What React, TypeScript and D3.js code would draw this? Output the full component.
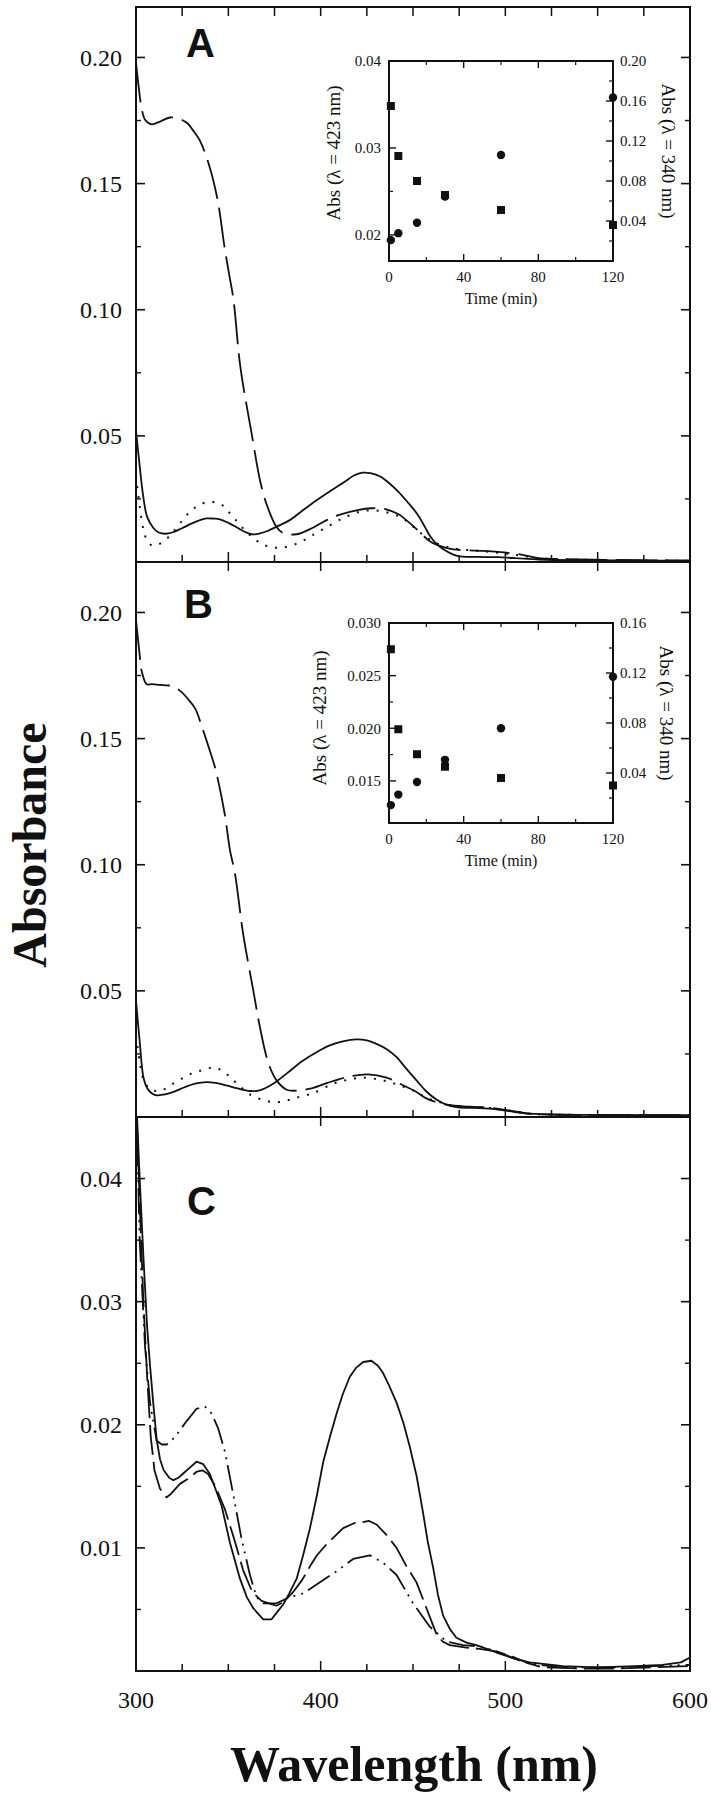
import React from 'react';
import * as d3 from 'd3';

type Pt = [number, number];

// ---------- data ----------
const wavelengthTicks = [300, 400, 500, 600];
const timeTicks = [0, 40, 80, 120];
const timeMinor = [20, 60, 100];
const insetTimes = [1, 5, 15, 30, 60, 120];

const insetA423 = [0.0194, 0.0202, 0.0214, 0.0244, 0.0292, 0.0358];
const insetA340 = [0.155, 0.105, 0.080, 0.066, 0.051, 0.036];
const insetB423 = [0.0127, 0.0137, 0.0149, 0.0170, 0.0200, 0.0249];
const insetB340 = [0.139, 0.075, 0.055, 0.045, 0.036, 0.030];

const aDashed: Pt[] = [
  [300, 0.198], [301.5, 0.188], [303, 0.180], [305, 0.1752], [308.5, 0.1735], [313, 0.1746],
  [318.4, 0.1762], [323.8, 0.1756], [328, 0.1738], [331, 0.171], [334.4, 0.1673], [339.3, 0.158],
  [344.2, 0.1435], [347.9, 0.125], [350.3, 0.1146], [352.8, 0.1039], [356.5, 0.0774], [362.6, 0.051],
  [367.5, 0.0312], [371.2, 0.0219], [376, 0.014], [379.8, 0.0114], [387, 0.011], [395.8, 0.0136],
  [403, 0.0165], [410, 0.0187], [420, 0.0206], [427.6, 0.0213], [435, 0.021], [442, 0.019],
  [447, 0.0162], [452, 0.013], [459.5, 0.008], [466, 0.006], [472, 0.005], [485, 0.0045],
  [496, 0.004], [508, 0.003], [518, 0.0015], [530, 0.0012], [560, 0.0008], [600, 0.0005],
];
const aSolid: Pt[] = [
  [300, 0.052], [302, 0.038], [304, 0.0256], [306, 0.018], [309.4, 0.0135], [312, 0.0118],
  [316, 0.0112], [320, 0.0118], [324.6, 0.0133], [330, 0.0152], [335, 0.0167], [338, 0.0173],
  [342, 0.0172], [345.4, 0.0169], [350, 0.0155], [354, 0.014], [358, 0.0123], [362.6, 0.011],
  [367, 0.0113], [371.2, 0.0123], [377, 0.0143], [383.5, 0.0167], [390, 0.0203], [398, 0.0246],
  [405, 0.028], [413, 0.0318], [418, 0.0343], [422.7, 0.0354], [427, 0.0352], [432.5, 0.0338],
  [437, 0.0313], [442, 0.0279], [447, 0.0238], [452, 0.0193], [456, 0.0145], [459.5, 0.01],
  [463, 0.007], [467, 0.0048], [474, 0.0024], [485, 0.002], [496, 0.0019], [510, 0.0013],
  [518, 0.001], [540, 0.0007], [570, 0.0006], [600, 0.0005],
];
const aDotted: Pt[] = [
  [300, 0.034], [302, 0.022], [304, 0.013], [306, 0.0085], [308.6, 0.0066], [311.5, 0.0068],
  [314.7, 0.008], [319, 0.011], [324.6, 0.016], [330, 0.0205], [335, 0.0228], [339.3, 0.0239],
  [343, 0.0236], [346.7, 0.0226], [350, 0.02], [354, 0.0167], [359, 0.0125], [363.8, 0.0094],
  [368, 0.0072], [373.6, 0.0058], [378, 0.0057], [383.3, 0.0063], [390, 0.0083], [395.7, 0.0107],
  [405, 0.0145], [413, 0.0177], [420, 0.0197], [427.6, 0.0205], [435, 0.0198], [442, 0.0182],
  [447, 0.016], [452, 0.0127], [456, 0.0105], [459.5, 0.0087], [465, 0.0068], [471.8, 0.0054],
  [485, 0.0044], [496, 0.0037], [508, 0.0026], [518, 0.0015], [535, 0.001], [560, 0.0007], [600, 0.0005],
];

const bDashed: Pt[] = [
  [300, 0.197], [301, 0.19], [302, 0.183], [303, 0.177], [305.8, 0.1715], [308.6, 0.1716],
  [313, 0.1713], [317, 0.1711], [320, 0.1707], [324.7, 0.1684], [328, 0.1658], [332, 0.162],
  [336, 0.154], [340.5, 0.144], [343, 0.138], [348, 0.1203], [350.9, 0.1057], [353.6, 0.0965],
  [358, 0.0727], [363.5, 0.0502], [367, 0.036], [370.7, 0.0238], [373.5, 0.018], [376.1, 0.0145],
  [381.5, 0.0108], [388, 0.0105], [394.2, 0.0112], [403.2, 0.0134], [414, 0.0158], [425.7, 0.0169],
  [435.7, 0.0156], [444, 0.0128], [451.9, 0.0099], [457, 0.0075], [462.7, 0.0059], [470, 0.0047],
  [477.1, 0.0042], [491.6, 0.0037], [498.8, 0.0029], [507, 0.002], [513, 0.0013], [530, 0.0009],
  [560, 0.0008], [600, 0.0007],
];
const bSolid: Pt[] = [
  [300, 0.046], [302, 0.03], [304, 0.0158], [306, 0.0115], [308.5, 0.0094], [311.2, 0.0086],
  [315, 0.0089], [320, 0.0099], [326, 0.0117], [332, 0.0132], [338.2, 0.0138], [343, 0.0135],
  [349, 0.0125], [355, 0.0113], [361.7, 0.0103], [367, 0.0106], [374.3, 0.0132], [382, 0.0175],
  [390.5, 0.0224], [398, 0.0258], [405, 0.0284], [412, 0.03], [419.4, 0.0308], [425, 0.0304],
  [430.2, 0.029], [436, 0.0268], [441, 0.0238], [446, 0.0195], [451.9, 0.0145], [457, 0.0103],
  [462.7, 0.0069], [468, 0.0049], [473.5, 0.0039], [482, 0.0036], [491.6, 0.0033], [502, 0.0023],
  [513.2, 0.0013], [530, 0.0009], [560, 0.0008], [600, 0.0007],
];
const bDotted: Pt[] = [
  [300, 0.032], [302, 0.022], [304, 0.015], [307, 0.0115], [310, 0.0104], [313.9, 0.0105],
  [319, 0.0128], [324.7, 0.0152], [330, 0.0172], [335.5, 0.0185], [341, 0.0196], [344, 0.0192],
  [347.3, 0.0182], [352, 0.015], [357.2, 0.0116], [362, 0.0088], [368, 0.0069], [374.3, 0.0059],
  [380, 0.0062], [385.1, 0.0073], [390, 0.0083], [396, 0.0095], [406.8, 0.0132], [415, 0.0148],
  [423, 0.0156], [433.8, 0.0145], [444, 0.0122], [451.9, 0.0099], [457, 0.0077], [462.7, 0.0063],
  [470, 0.0048], [477, 0.0042], [491.6, 0.0036], [500, 0.0028], [513, 0.0013], [530, 0.0009],
  [560, 0.0008], [600, 0.0007],
];

const cSolid: Pt[] = [
  [300, 0.047], [302, 0.040], [304, 0.0337], [306, 0.028], [307.6, 0.0248], [309.5, 0.0215],
  [311.2, 0.0188], [313, 0.0172], [315, 0.0163], [318, 0.0157], [320.2, 0.0155], [323, 0.0157],
  [326, 0.0161], [329, 0.0165], [332.8, 0.017], [336.4, 0.0168], [340, 0.016], [343, 0.0148],
  [346.4, 0.0134], [350.9, 0.0104], [356.3, 0.0075], [360, 0.006], [363.5, 0.0051], [368.9, 0.0042],
  [373.4, 0.0042], [376, 0.0047], [379.7, 0.0054], [383, 0.0063], [387, 0.0075], [390.5, 0.0094],
  [394.2, 0.0116], [398, 0.0143], [401.4, 0.017], [405, 0.019], [408.6, 0.0209], [412, 0.0225],
  [415.8, 0.0239], [419, 0.0246], [423, 0.0251], [427.5, 0.0252], [431, 0.0248], [433.8, 0.0242],
  [437, 0.0232], [441.1, 0.0218], [444.7, 0.0202], [448.3, 0.0182], [452, 0.0158], [455.5, 0.0128],
  [458, 0.0105], [460.9, 0.0084], [463.5, 0.0062], [466.3, 0.0045], [470, 0.0034], [473.5, 0.0027],
  [479, 0.0023], [484.3, 0.0021], [490, 0.0018], [495.2, 0.0015], [505, 0.001], [513.2, 0.0007],
  [531.2, 0.0004], [550, 0.0003], [570, 0.0004], [585, 0.0005], [595, 0.0007], [600, 0.0011],
];
const cDashed: Pt[] = [
  [300, 0.047], [302, 0.038], [304, 0.03], [306, 0.024], [308, 0.019], [310, 0.0163],
  [313, 0.0148], [316.6, 0.0141], [319, 0.0144], [323.8, 0.0152], [328, 0.0156], [333, 0.0162],
  [336, 0.0163], [339, 0.016], [343, 0.015], [348, 0.0132], [353, 0.0108], [358, 0.0082],
  [363, 0.0064], [368, 0.0057], [372, 0.0055], [376, 0.0053], [380, 0.0056], [385, 0.0064],
  [390, 0.0074], [394.2, 0.0085], [398, 0.0094], [403.2, 0.0103], [408, 0.011], [412.2, 0.0116],
  [418, 0.012], [423, 0.0121], [426, 0.0122], [430.2, 0.0119], [436, 0.011], [441.1, 0.01],
  [446.5, 0.0085], [451.9, 0.0072], [457.3, 0.0051], [462.7, 0.003], [466, 0.0024], [469.9, 0.0021],
  [478.9, 0.0019], [486, 0.0018], [495, 0.0016], [505, 0.0011], [513, 0.0006], [520, 0.0003],
  [540, 0.0002], [560, 0.0002], [580, 0.0003], [600, 0.0004],
];
const cDashDot: Pt[] = [
  [300, 0.047], [302, 0.035], [304.9, 0.0263], [307.6, 0.0218], [311.2, 0.0187], [314, 0.0184],
  [316.6, 0.0184], [321.1, 0.019], [327.4, 0.0203], [332.8, 0.0213], [337.3, 0.0215], [341, 0.0209],
  [344.5, 0.0197], [348.2, 0.0178], [352.7, 0.0143], [357.2, 0.0107], [361.7, 0.0078], [365.3, 0.006],
  [368.9, 0.0055], [376.1, 0.0055], [383.3, 0.006], [390.5, 0.0063], [399.6, 0.0072], [408.6, 0.0081],
  [417.6, 0.0091], [426.6, 0.0094], [433.8, 0.0088], [441.1, 0.0078], [450, 0.0055], [459.1, 0.0036],
  [468.1, 0.0024], [477.1, 0.0021], [486.1, 0.002], [495.2, 0.0016], [505, 0.001], [513.2, 0.0006],
  [530, 0.0003], [560, 0.0003], [580, 0.0004], [600, 0.0005],
];

// ---------- layout ----------
const W = 711;
const H = 1800;
const X0 = 136;
const X1 = 690;
const SERIF = '"Liberation Serif", "Times New Roman", serif';
const SANS = '"Liberation Sans", Arial, sans-serif';
const INK = '#111';

const xMain = d3.scaleLinear().domain([300, 600]).range([X0, X1]);

type Series = { data: Pt[]; dash?: string; width?: number };

interface PanelProps {
  id: string;
  top: number;
  bottom: number;
  yMax: number;
  majors: number[];
  minors: number[];
  letter: string;
  letterX: number;
  letterY: number;
  series: Series[];
  curve: d3.CurveFactory;
  bottomMajorEvery: number;
  topEvery: number;
  showXLabels?: boolean;
}

function Panel(p: PanelProps) {
  const y = d3.scaleLinear().domain([0, p.yMax]).range([p.bottom, p.top]);
  const line = d3
    .line<Pt>()
    .x((d) => xMain(d[0]))
    .y((d) => y(d[1]))
    .curve(p.curve);
  const fmt = d3.format('.2f');
  const xt: number[] = d3.range(325, 600, 25);
  const clipId = 'clip' + p.id;
  return (
    <g>
      <defs>
        <clipPath id={clipId}>
          <rect x={X0} y={p.top} width={X1 - X0} height={p.bottom - p.top} />
        </clipPath>
      </defs>
      <g clipPath={`url(#${clipId})`}>
        {p.series.map((s, i) => (
          <path
            key={i}
            d={line(s.data) || ''}
            fill="none"
            stroke={INK}
            strokeWidth={s.width ?? 1.8}
            strokeDasharray={s.dash}
            strokeLinejoin="round"
          />
        ))}
      </g>
      <rect x={X0} y={p.top} width={X1 - X0} height={p.bottom - p.top} fill="none" stroke={INK} strokeWidth={2} />
      {p.majors.map((v) => (
        <g key={'M' + v}>
          <line x1={X0} x2={X0 + 9} y1={y(v)} y2={y(v)} stroke={INK} strokeWidth={1.6} />
          <line x1={X1} x2={X1 - 9} y1={y(v)} y2={y(v)} stroke={INK} strokeWidth={1.6} />
          <text x={122} y={y(v)} dy="0.35em" textAnchor="end" fontFamily={SERIF} fontSize={24} fill={INK}>
            {fmt(v)}
          </text>
        </g>
      ))}
      {p.minors.map((v) => (
        <g key={'m' + v}>
          <line x1={X0} x2={X0 + 5} y1={y(v)} y2={y(v)} stroke={INK} strokeWidth={1.4} />
          <line x1={X1} x2={X1 - 5} y1={y(v)} y2={y(v)} stroke={INK} strokeWidth={1.4} />
        </g>
      ))}
      {xt.map((w) => {
        const major = w % p.bottomMajorEvery === 0;
        const len = major ? 10 : 7;
        return <line key={'b' + w} x1={xMain(w)} x2={xMain(w)} y1={p.bottom} y2={p.bottom - len} stroke={INK} strokeWidth={1.5} />;
      })}
      {xt
        .filter((w) => w % p.topEvery === 0)
        .map((w) => (
          <line key={'t' + w} x1={xMain(w)} x2={xMain(w)} y1={p.top} y2={p.top + 9} stroke={INK} strokeWidth={1.5} />
        ))}
      {p.showXLabels &&
        wavelengthTicks.map((w) => (
          <text key={'xl' + w} x={xMain(w)} y={p.bottom + 37} textAnchor="middle" fontFamily={SERIF} fontSize={24} fill={INK}>
            {w}
          </text>
        ))}
      <text x={p.letterX} y={p.letterY} fontFamily={SANS} fontWeight="bold" fontSize={40} fill={INK}>
        {p.letter}
      </text>
    </g>
  );
}

interface InsetProps {
  top: number;
  bottom: number;
  left: [number, number];
  right: [number, number];
  leftMajors: number[];
  leftMinors: number[];
  leftFmt: string;
  rightMajors: number[];
  rightMinors: number[];
  v423: number[];
  v340: number[];
  leftLabelX: number;
  leftLabelY: number;
  rightLabelX: number;
  rightLabelY: number;
}

const IX0 = 389;
const IX1 = 613;

function Inset(p: InsetProps) {
  const x = d3.scaleLinear().domain([0, 120]).range([IX0, IX1]);
  const yL = d3.scaleLinear().domain(p.left).range([p.bottom, p.top]);
  const yR = d3.scaleLinear().domain(p.right).range([p.bottom, p.top]);
  const fL = d3.format(p.leftFmt);
  const fR = d3.format('.2f');
  const fs = 15;
  return (
    <g>
      <rect x={IX0} y={p.top} width={IX1 - IX0} height={p.bottom - p.top} fill="white" stroke={INK} strokeWidth={2} />
      {p.leftMajors.map((v) => (
        <g key={'lM' + v}>
          <line x1={IX0} x2={IX0 + 7} y1={yL(v)} y2={yL(v)} stroke={INK} strokeWidth={1.4} />
          <text x={381} y={yL(v)} dy="0.35em" textAnchor="end" fontFamily={SERIF} fontSize={fs} fill={INK}>
            {fL(v)}
          </text>
        </g>
      ))}
      {p.leftMinors.map((v) => (
        <line key={'lm' + v} x1={IX0} x2={IX0 + 4} y1={yL(v)} y2={yL(v)} stroke={INK} strokeWidth={1.2} />
      ))}
      {p.rightMajors.map((v) => (
        <g key={'rM' + v}>
          <line x1={IX1} x2={IX1 - 7} y1={yR(v)} y2={yR(v)} stroke={INK} strokeWidth={1.4} />
          <text x={620} y={yR(v)} dy="0.35em" textAnchor="start" fontFamily={SERIF} fontSize={fs} fill={INK}>
            {fR(v)}
          </text>
        </g>
      ))}
      {p.rightMinors.map((v) => (
        <line key={'rm' + v} x1={IX1} x2={IX1 - 4} y1={yR(v)} y2={yR(v)} stroke={INK} strokeWidth={1.2} />
      ))}
      {timeTicks.map((t) => (
        <g key={'tt' + t}>
          <line x1={x(t)} x2={x(t)} y1={p.bottom} y2={p.bottom - 7} stroke={INK} strokeWidth={1.4} />
          <line x1={x(t)} x2={x(t)} y1={p.top} y2={p.top + 7} stroke={INK} strokeWidth={1.4} />
          <text x={x(t)} y={p.bottom + 21} textAnchor="middle" fontFamily={SERIF} fontSize={fs} fill={INK}>
            {t}
          </text>
        </g>
      ))}
      {timeMinor.map((t) => (
        <g key={'tm' + t}>
          <line x1={x(t)} x2={x(t)} y1={p.bottom} y2={p.bottom - 4} stroke={INK} strokeWidth={1.2} />
          <line x1={x(t)} x2={x(t)} y1={p.top} y2={p.top + 4} stroke={INK} strokeWidth={1.2} />
        </g>
      ))}
      <text x={(IX0 + IX1) / 2} y={p.bottom + 43} textAnchor="middle" fontFamily={SERIF} fontSize={16} fill={INK}>
        Time (min)
      </text>
      <text
        transform={`translate(${p.leftLabelX},${p.leftLabelY}) rotate(-90)`}
        textAnchor="middle"
        fontFamily={SERIF}
        fontSize={19}
        fill={INK}
      >
        Abs (λ = 423 nm)
      </text>
      <text
        transform={`translate(${p.rightLabelX},${p.rightLabelY}) rotate(90)`}
        textAnchor="middle"
        fontFamily={SERIF}
        fontSize={19}
        fill={INK}
      >
        Abs (λ = 340 nm)
      </text>
      {insetTimes.map((t, i) => (
        <rect key={'sq' + i} x={x(t) - 4} y={yR(p.v340[i]) - 4} width={8} height={8} fill={INK} />
      ))}
      {insetTimes.map((t, i) => (
        <circle key={'ci' + i} cx={x(t)} cy={yL(p.v423[i])} r={4.2} fill={INK} />
      ))}
    </g>
  );
}

const DASH = '40,9';
const DOT = '2,8';
const C_DASH = '30,7';
const C_DASHDOT = '26,6,2,6,2,6';

export default function App() {
  return (
    <div style={{ position: 'absolute', left: 0, top: 0, background: 'white' }}>
      <svg width={W} height={H} viewBox={`0 0 ${W} ${H}`} style={{ display: 'block', background: 'white' }}>
        <rect x={0} y={0} width={W} height={H} fill="white" />
        <Panel
          id="A"
          top={7}
          bottom={562}
          yMax={0.22}
          majors={[0.05, 0.1, 0.15, 0.2]}
          minors={[0.025, 0.075, 0.125, 0.175]}
          letter="A"
          letterX={186}
          letterY={57}
          curve={d3.curveCatmullRom.alpha(0.5)}
          bottomMajorEvery={50}
          topEvery={25}
          series={[
            { data: aDotted, dash: DOT, width: 2 },
            { data: aDashed, dash: DASH },
            { data: aSolid },
          ]}
        />
        <Panel
          id="B"
          top={562}
          bottom={1117}
          yMax={0.22}
          majors={[0.05, 0.1, 0.15, 0.2]}
          minors={[0.025, 0.075, 0.125, 0.175]}
          letter="B"
          letterX={184}
          letterY={618}
          curve={d3.curveCatmullRom.alpha(0.5)}
          bottomMajorEvery={100}
          topEvery={50}
          series={[
            { data: bDotted, dash: DOT, width: 2 },
            { data: bDashed, dash: DASH },
            { data: bSolid },
          ]}
        />
        <Panel
          id="C"
          top={1117}
          bottom={1671}
          yMax={0.045}
          majors={[0.01, 0.02, 0.03, 0.04]}
          minors={[0.005, 0.015, 0.025, 0.035]}
          letter="C"
          letterX={187}
          letterY={1215}
          curve={d3.curveLinear}
          bottomMajorEvery={100}
          topEvery={100}
          showXLabels
          series={[
            { data: cDashDot, dash: C_DASHDOT },
            { data: cDashed, dash: C_DASH },
            { data: cSolid },
          ]}
        />
        <Inset
          top={61}
          bottom={261}
          left={[0.017, 0.04]}
          right={[0, 0.2]}
          leftMajors={[0.02, 0.03, 0.04]}
          leftMinors={[0.025, 0.035]}
          leftFmt=".2f"
          rightMajors={[0.04, 0.08, 0.12, 0.16, 0.2]}
          rightMinors={[0.02, 0.06, 0.1, 0.14, 0.18]}
          v423={insetA423}
          v340={insetA340}
          leftLabelX={340}
          leftLabelY={153}
          rightLabelX={662}
          rightLabelY={151}
        />
        <Inset
          top={623}
          bottom={823}
          left={[0.011, 0.03]}
          right={[0, 0.16]}
          leftMajors={[0.015, 0.02, 0.025, 0.03]}
          leftMinors={[0.0125, 0.0175, 0.0225, 0.0275]}
          leftFmt=".3f"
          rightMajors={[0.04, 0.08, 0.12, 0.16]}
          rightMinors={[0.02, 0.06, 0.1, 0.14]}
          v423={insetB423}
          v340={insetB340}
          leftLabelX={326}
          leftLabelY={718}
          rightLabelX={660}
          rightLabelY={713}
        />
        <text
          transform="translate(46,845) rotate(-90)"
          textAnchor="middle"
          fontFamily={SERIF}
          fontWeight="bold"
          fontSize={48}
          fill={INK}
        >
          Absorbance
        </text>
        <text x={414} y={1781} textAnchor="middle" fontFamily={SERIF} fontWeight="bold" fontSize={50} fill={INK}>
          Wavelength (nm)
        </text>
      </svg>
    </div>
  );
}
